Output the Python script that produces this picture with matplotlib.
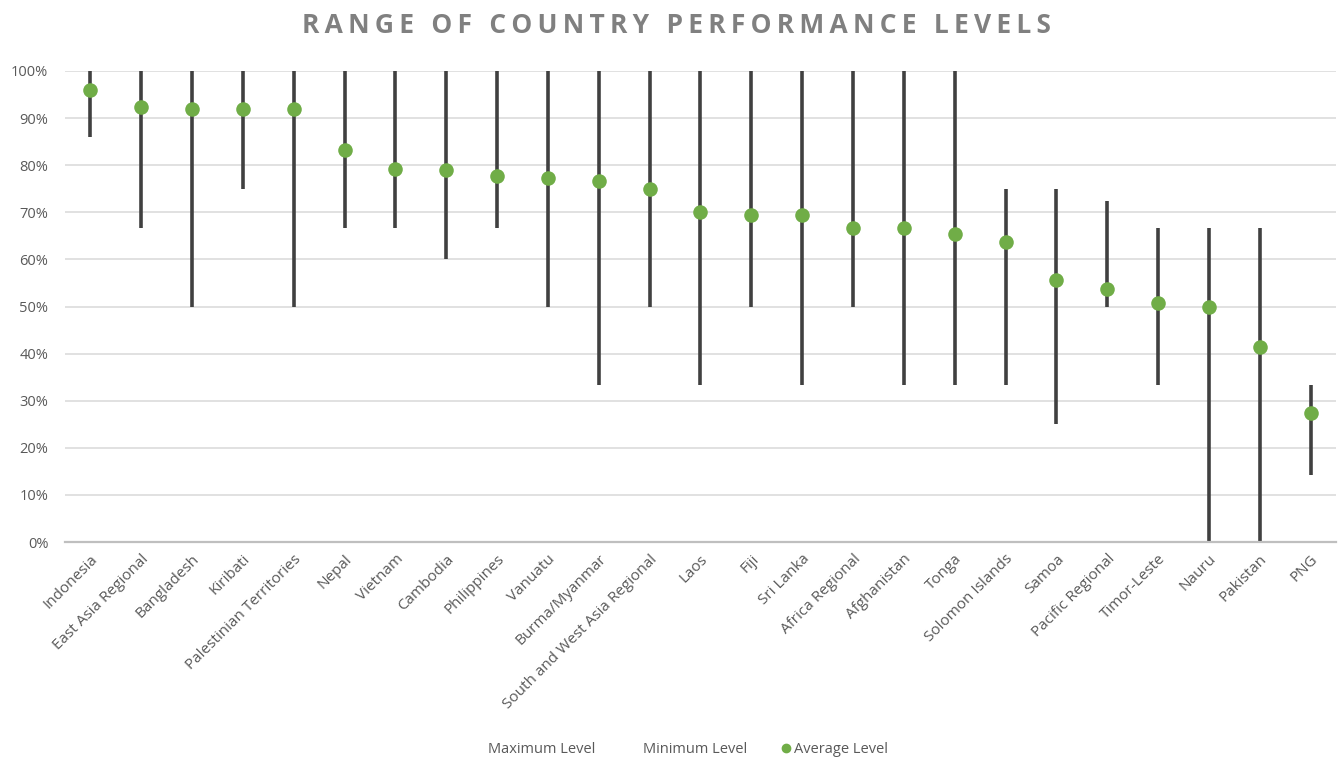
import matplotlib
matplotlib.use("Agg")
import matplotlib.pyplot as plt
from matplotlib.lines import Line2D
from matplotlib.ticker import PercentFormatter

plt.rcParams['font.family'] = ['Open Sans', 'DejaVu Sans']

countries = ["Indonesia", "East Asia Regional", "Bangladesh", "Kiribati",
             "Palestinian Territories", "Nepal", "Vietnam", "Cambodia",
             "Philippines", "Vanuatu", "Burma/Myanmar",
             "South and West Asia Regional", "Laos", "Fiji", "Sri Lanka",
             "Africa Regional", "Afghanistan", "Tonga", "Solomon Islands",
             "Samoa", "Pacific Regional", "Timor-Leste", "Nauru", "Pakistan",
             "PNG"]

max_level = [1.0, 1.0, 1.0, 1.0, 1.0, 1.0, 1.0, 1.0, 1.0, 1.0, 1.0, 1.0,
             1.0, 1.0, 1.0, 1.0, 1.0, 1.0, 0.75, 0.75, 0.725, 0.667, 0.667,
             0.667, 0.333]
min_level = [0.86, 0.667, 0.5, 0.75, 0.5, 0.667, 0.667, 0.6, 0.667, 0.5,
             0.333, 0.5, 0.333, 0.5, 0.333, 0.5, 0.333, 0.333, 0.333, 0.25,
             0.5, 0.333, 0.0, 0.0, 0.143]
avg_level = [0.96, 0.924, 0.919, 0.919, 0.919, 0.832, 0.792, 0.79, 0.777,
             0.773, 0.767, 0.749, 0.701, 0.695, 0.695, 0.666, 0.666, 0.654,
             0.638, 0.556, 0.537, 0.508, 0.50, 0.415, 0.273]

title = "RANGE OF COUNTRY PERFORMANCE LEVELS"

grey_text = "#595959"
line_col = "#404040"
green = "#70AD47"

fig = plt.figure(figsize=(13.4, 7.6), dpi=100)
ax = fig.add_axes([0.0485, 0.2868, 0.9485, 0.6198])

x = range(len(countries))

# high-low lines, then the averages on top
ax.vlines(x, min_level, max_level, color=line_col, linewidth=2.6, zorder=2)
ax.scatter(x, avg_level, s=110, color=green, zorder=3, linewidths=0)

ax.set_xlim(-0.5, len(countries) - 0.5)
ax.set_ylim(0, 1)
ax.set_yticks([i / 10 for i in range(11)])
ax.yaxis.set_major_formatter(PercentFormatter(1.0, decimals=0))
ax.grid(axis='y', color="#D9D9D9", linewidth=1.1, zorder=0)
ax.set_axisbelow(True)

for side in ['top', 'right', 'left']:
    ax.spines[side].set_visible(False)
ax.spines['bottom'].set_color("#BFBFBF")
ax.spines['bottom'].set_linewidth(1.6)

ax.set_xticks(list(x))
ax.set_xticklabels(countries, rotation=45, ha='right', rotation_mode='anchor',
                   fontsize=11, color=grey_text)
ax.tick_params(axis='x', length=0, pad=7)
ax.tick_params(axis='y', length=0, pad=12, labelsize=10.5, labelcolor=grey_text)

# spaced-out caps for the title
spaced = "\u2009".join(title)
fig.text(0.505, 0.967, spaced, ha='center', va='center', fontsize=19,
         fontweight='bold', color="#808080")

handles = [Line2D([], [], linestyle='none'),
           Line2D([], [], linestyle='none'),
           Line2D([], [], linestyle='none', marker='o', markersize=6,
                  color=green)]
fig.legend(handles, ["Maximum Level", "Minimum Level", "Average Level"],
           loc='center', bbox_to_anchor=(0.509, 0.014), ncol=3, frameon=False,
           fontsize=10.5, labelcolor=grey_text, handlelength=0.6,
           handletextpad=0.25, columnspacing=2.4)

fig.savefig("out.png", dpi=100)
